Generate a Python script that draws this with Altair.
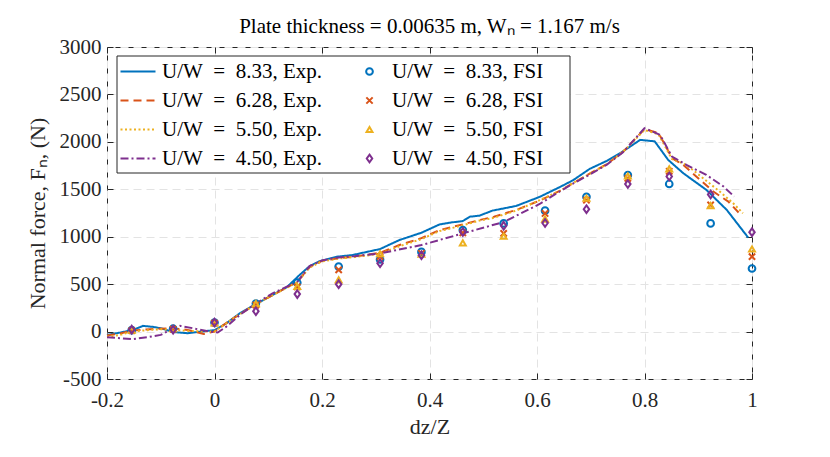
import altair as alt
import pandas as pd

FONT = "Liberation Serif"
EQ = "\u2002=\u2002"

exp_labels = [f"U/W{EQ}8.33, Exp.", f"U/W{EQ}6.28, Exp.", f"U/W{EQ}5.50, Exp.", f"U/W{EQ}4.50, Exp."]
fsi_labels = [f"U/W{EQ}8.33, FSI", f"U/W{EQ}6.28, FSI", f"U/W{EQ}5.50, FSI", f"U/W{EQ}4.50, FSI"]
colors = ["#0072BD", "#D95319", "#EDB120", "#7E2F8E"]

x_ticks = [-0.2, 0, 0.2, 0.4, 0.6, 0.8, 1]
y_ticks = [-500, 0, 500, 1000, 1500, 2000, 2500, 3000]

# Experimental curves
x_exp_833 = [-0.2, -0.175, -0.15, -0.133, -0.115, -0.1, -0.077, -0.05, -0.025, 0.0, 0.022, 0.047,
             0.077, 0.108, 0.135, 0.158, 0.177, 0.196, 0.227, 0.256, 0.308, 0.344, 0.385, 0.419,
             0.44, 0.462, 0.475, 0.493, 0.517, 0.561, 0.605, 0.643, 0.667, 0.698, 0.73, 0.76,
             0.792, 0.819, 0.844, 0.872, 0.915, 0.953, 0.993]
y_exp_833 = [-35, -10, 20, 60, 50, 35, -5, -17, 0, 15, 87, 192,
             290, 385, 470, 595, 690, 743, 789, 806, 870, 965, 1042, 1130,
             1150, 1165, 1211, 1222, 1275, 1324, 1420, 1525, 1595, 1715, 1800, 1900,
             2021, 2005, 1810, 1670, 1494, 1283, 990]

x_exp_628 = [-0.2, -0.175, -0.154, -0.12, -0.08, -0.05, -0.02, 0.0, 0.03, 0.077, 0.154, 0.177,
             0.2, 0.231, 0.26, 0.308, 0.344, 0.385, 0.419, 0.462, 0.493, 0.52, 0.561, 0.605,
             0.643, 0.667, 0.698, 0.73, 0.76, 0.8, 0.826, 0.84, 0.851, 0.872, 0.9, 0.928,
             0.956, 0.978]
y_exp_628 = [-40, -20, 10, 25, 35, 17, -25, 0, 122, 290, 524, 680,
             745, 775, 790, 830, 912, 985, 1070, 1130, 1176, 1210, 1282, 1380,
             1485, 1565, 1665, 1765, 1895, 2134, 2092, 1950, 1828, 1757, 1617, 1476,
             1370, 1237]

x_exp_550 = [-0.2, -0.175, -0.154, -0.125, -0.1, -0.077, -0.04, 0.0, 0.03, 0.077, 0.154, 0.177,
             0.2, 0.231, 0.26, 0.308, 0.344, 0.385, 0.419, 0.462, 0.493, 0.52, 0.561, 0.605,
             0.643, 0.667, 0.698, 0.73, 0.76, 0.8, 0.826, 0.851, 0.878, 0.909, 0.94, 0.965,
             0.983]
y_exp_550 = [-55, -35, 0, 15, 25, 17, 5, 0, 120, 290, 520, 675,
             740, 770, 785, 820, 900, 975, 1060, 1120, 1170, 1200, 1275, 1385,
             1485, 1565, 1665, 1765, 1895, 2125, 2080, 1820, 1757, 1617, 1476, 1353,
             1248]

x_exp_450 = [-0.2, -0.175, -0.154, -0.125, -0.1, -0.077, -0.064, -0.04, -0.01, 0.006, 0.022, 0.047,
             0.077, 0.108, 0.154, 0.177, 0.2, 0.231, 0.26, 0.308, 0.385, 0.462, 0.538, 0.605,
             0.643, 0.667, 0.698, 0.73, 0.76, 0.8, 0.829, 0.851, 0.878, 0.915, 0.947, 0.967]
y_exp_450 = [-60, -70, -80, -60, -35, 35, 60, 35, 0, -10, 52, 175,
             297, 402, 524, 690, 750, 782, 795, 824, 912, 1035, 1155, 1345,
             1480, 1560, 1655, 1760, 1890, 2144, 2074, 1845, 1757, 1652, 1529, 1423]

# FSI results
x_fsi = [-0.154, -0.077, 0.0, 0.077, 0.154, 0.231, 0.308, 0.385, 0.462, 0.538, 0.615, 0.692,
         0.769, 0.846, 0.923, 1.0]
y_fsi_833 = [15, 30, 95, 295, 515, 685, 760, 840, 1070, 1140, 1275, 1420, 1650, 1556, 1140, 665]
y_fsi_628 = [10, 25, 90, 280, 470, 650, 790, 825, 1040, 1035, 1245, 1385, 1615, 1690, 1335, 790]
y_fsi_550 = [15, 30, 90, 295, 475, 545, 820, 815, 935, 1005, 1185, 1405, 1640, 1715, 1328, 870]
y_fsi_450 = [20, 20, 95, 215, 395, 500, 720, 805, 1050, 1115, 1145, 1290, 1555, 1635, 1445, 1048]

exp_series = [(x_exp_833, y_exp_833), (x_exp_628, y_exp_628), (x_exp_550, y_exp_550), (x_exp_450, y_exp_450)]
fsi_series = [y_fsi_833, y_fsi_628, y_fsi_550, y_fsi_450]

df_exp = pd.concat([pd.DataFrame({"x": xs, "y": ys, "label": lab})
                    for (xs, ys), lab in zip(exp_series, exp_labels)], ignore_index=True)
df_fsi = pd.concat([pd.DataFrame({"x": x_fsi, "y": ys, "label": lab})
                    for ys, lab in zip(fsi_series, fsi_labels)], ignore_index=True)

dashes = [[1, 0], [8, 5], [2, 2.5], [8, 3, 2, 3]]
X_PATH = "M-1,-1L1,1M1,-1L-1,1"
DIAMOND_PATH = "M0,-1.4L1,0L0,1.4L-1,0Z"
shapes = ["circle", X_PATH, "triangle-up", DIAMOND_PATH]
sizes = [45, 30, 110, 60]

x_scale = alt.Scale(domain=[-0.2, 1.0], nice=False, zero=False)
y_scale = alt.Scale(domain=[-500, 3000], nice=False, zero=False)

leg_exp = alt.Legend(orient="none", legendX=7, legendY=14, title=None, padding=0,
                     labelFont=FONT, labelFontSize=21, labelColor="black", labelLimit=400,
                     symbolType="M-1,0H7.75", symbolSize=64, symbolStrokeWidth=2,
                     labelOffset=27, rowPadding=7)
leg_fsi = alt.Legend(orient="none", legendX=252, legendY=14, title=None, padding=0,
                     labelFont=FONT, labelFontSize=21, labelColor="black", labelLimit=400,
                     symbolStrokeWidth=2, labelOffset=12, rowPadding=7)

grid_x_axis = alt.Axis(values=x_ticks, grid=True, ticks=False, tickSize=0, domain=False,
                       labelExpr="toString(datum.value)", labelFlush=False, title="dz/Z",
                       labelPadding=10, titlePadding=6, orient="bottom")
grid_y_axis = alt.Axis(values=y_ticks, grid=True, ticks=False, tickSize=0, domain=False,
                       labelExpr="toString(datum.value)", labelFlush=False,
                       title="Normal force, Fₙ, (N)", labelPadding=6, titlePadding=10, orient="left")


def tick_axis(orient, vals):
    return alt.Axis(values=vals, grid=False, ticks=True, tickSize=6, offset=-6, domain=False,
                    labels=False, title=None, orient=orient)


box = alt.Chart(pd.DataFrame({"k": [0]})).mark_rect(
    fill="white", stroke="#262626", strokeWidth=1
).encode(x=alt.value(10), x2=alt.value(463), y=alt.value(9), y2=alt.value(126))

lines = alt.Chart(df_exp).mark_line(strokeWidth=2).encode(
    x=alt.X("x:Q", scale=x_scale, axis=grid_x_axis),
    y=alt.Y("y:Q", scale=y_scale, axis=grid_y_axis),
    color=alt.Color("label:N", scale=alt.Scale(domain=exp_labels, range=colors), legend=leg_exp),
    strokeDash=alt.StrokeDash("label:N", scale=alt.Scale(domain=exp_labels, range=dashes), legend=leg_exp),
)

points = alt.Chart(df_fsi).mark_point(filled=False, strokeWidth=2, opacity=1).encode(
    x=alt.X("x:Q", scale=x_scale, axis=tick_axis("bottom", x_ticks)),
    y=alt.Y("y:Q", scale=y_scale, axis=tick_axis("left", y_ticks)),
    color=alt.Color("label:N", scale=alt.Scale(domain=fsi_labels, range=colors), legend=leg_fsi),
    shape=alt.Shape("label:N", scale=alt.Scale(domain=fsi_labels, range=shapes), legend=leg_fsi),
    size=alt.Size("label:N", scale=alt.Scale(domain=fsi_labels, range=sizes), legend=leg_fsi),
)

frame_ticks = alt.Chart(df_fsi).mark_point(opacity=0).encode(
    x=alt.X("x:Q", scale=x_scale, axis=tick_axis("top", x_ticks)),
    y=alt.Y("y:Q", scale=y_scale, axis=tick_axis("right", y_ticks)),
)

chart = alt.layer(box, lines, points, frame_ticks).resolve_scale(
    color="independent", shape="independent", size="independent", strokeDash="independent"
).resolve_legend(
    color="independent", shape="independent", size="independent", strokeDash="independent"
).resolve_axis(
    x="independent", y="independent"
).properties(
    width=645, height=332,
    autosize=alt.AutoSizeParams(type="none"),
    padding={"left": 99, "top": 39, "right": 70, "bottom": 70},
    title=alt.TitleParams(text="Plate thickness = 0.00635 m, Wₙ = 1.167 m/s",
                          font=FONT, fontSize=21, fontWeight="normal", color="black",
                          anchor="middle", baseline="alphabetic", offset=-18),
).configure_view(
    stroke="#262626", strokeWidth=1
).configure_axis(
    labelFont=FONT, titleFont=FONT, labelFontSize=21, titleFontSize=22,
    labelColor="#262626", titleColor="#262626", titleFontWeight="normal",
    tickColor="#262626", tickWidth=1, gridColor="#e3e3e3", gridDash=[8, 5], gridWidth=1,
)

chart.save("out.html", embed_options={"renderer": "svg", "actions": False})
